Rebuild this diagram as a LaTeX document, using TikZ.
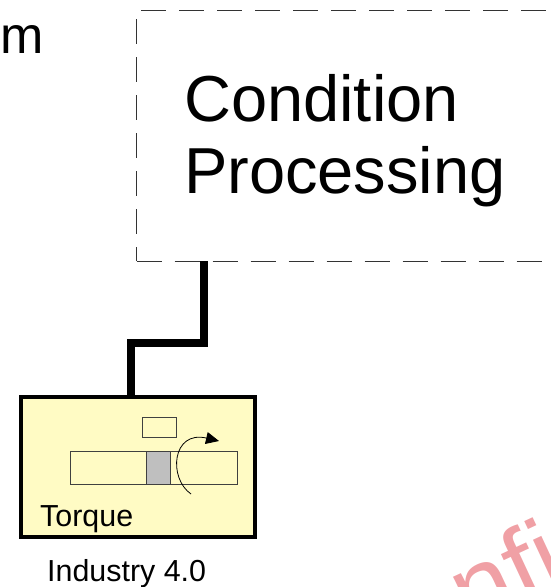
\documentclass[tikz,border=0pt]{standalone}
\usepackage{fontspec}
\setmainfont{Liberation Sans}
\usepackage{tikz}
\usetikzlibrary{arrows.meta}

\definecolor{sensorfill}{HTML}{FFFBC4}
\definecolor{partfill}{HTML}{BFBFBF}
\definecolor{stampcolor}{HTML}{F0A0A5}

\tikzset{
  sensorbox/.style={draw=black, line width=3.8pt, fill=sensorfill, inner sep=0pt, outer sep=0pt, anchor=north west},
  partbox/.style={draw=black!75, line width=0.8pt, inner sep=0pt, outer sep=0pt, anchor=north west},
  procbox/.style={draw=black!80, line width=0.8pt, dash pattern=on 25pt off 13pt, inner sep=0pt, outer sep=0pt, anchor=north west},
  label/.style={inner sep=0pt, anchor=base west}
}

\begin{document}
\begin{tikzpicture}[x=1pt, y=1pt]
    \clip (0,0) rectangle (550,-587);
    \useasboundingbox (0,0) rectangle (550,-587);
    \node (stamp) at (349,-687) [label, rotate=25, text=stampcolor, font=\fontsize{105}{105}\selectfont] {Confidential};
    \node (cond) at (136.5,-10) [procbox, minimum width=440pt, minimum height=251pt] {};
    \node (condline) at (184,-121) [label, font=\fontsize{65}{65}\selectfont] {Condition};
    \node (procline) at (184,-193) [label, font=\fontsize{65}{65}\selectfont] {Processing};
    \node (cutword) at (-29,-53) [label, font=\fontsize{52}{52}\selectfont] {am};
    \node (sensor) at (21,-397) [sensorbox, minimum width=234pt, minimum height=140pt] {};
    \node (gauge) at (142,-417) [partbox, minimum width=34pt, minimum height=20pt] {};
    \node (shaft) at (70,-451) [partbox, minimum width=167pt, minimum height=33pt] {};
    \node (hub) at (146,-451) [partbox, fill=partfill, minimum width=24pt, minimum height=33pt] {};
    \node (torque) at (40,-526) [label, font=\fontsize{30.4}{30.4}\selectfont] {Torque};
    \node (caption) at (47,-581) [label, font=\fontsize{30.4}{30.4}\selectfont] {Industry 4.0};
    \coordinate (condfoot) at (204,-261);
    \coordinate (sensortop) at (131,-397);
    \coordinate (turnstart) at (191,-494);
    \coordinate (turnend) at (219,-441);
    \draw[line width=7.5pt] (condfoot) -- (204,-343) -- (131,-343) -- (sensortop);
    \draw[line width=0.8pt, -{Triangle[length=13pt, width=12pt]}] (turnstart) .. controls (168,-478) and (172,-430) .. (turnend);
  \end{tikzpicture}
\end{document}
